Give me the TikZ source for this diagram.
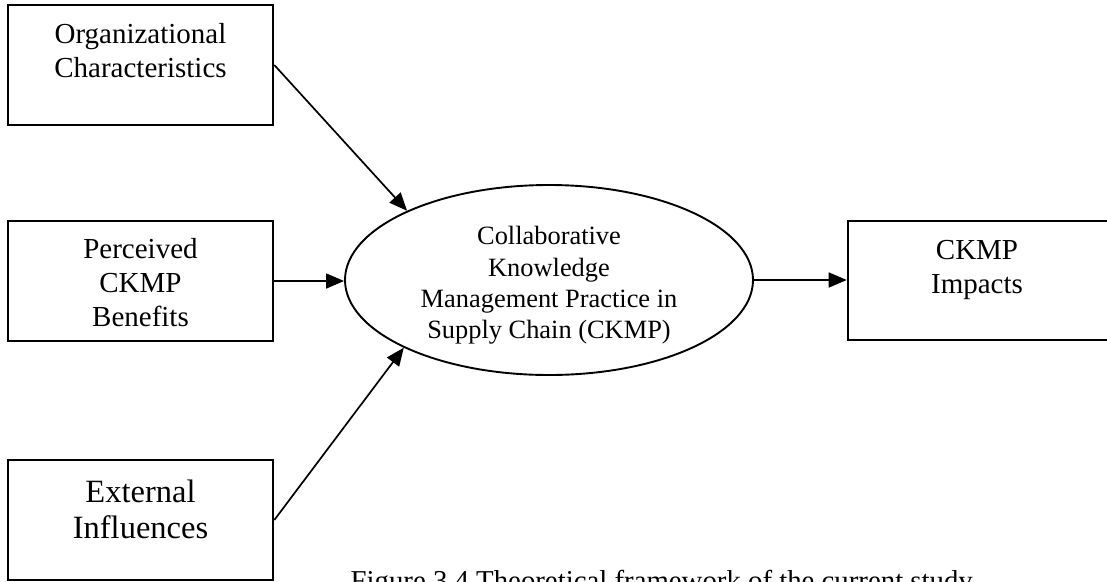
\documentclass[tikz,border=0pt]{standalone}
\usepackage{fontspec}
\setmainfont{Liberation Serif}
\usetikzlibrary{arrows.meta,shapes.geometric}
\begin{document}
\begin{tikzpicture}[x=1pt,y=-1pt,
  box/.style={draw,line width=2.6pt,inner sep=0pt},
  % multi-line labels: the base anchor sits on the last line
  lbl/.style={align=center,inner sep=0pt,anchor=base,
    font=\fontsize{29}{33.8}\selectfont},
  biglbl/.style={align=center,inner sep=0pt,anchor=base,
    font=\fontsize{32.5}{36}\selectfont},
  ell/.style={draw,ellipse,line width=1.9pt,inner sep=0pt},
  ellbl/.style={align=center,inner sep=0pt,anchor=base,
    font=\fontsize{26.4}{31.2}\selectfont},
  link/.style={line width=1.7pt,-{Triangle[length=18pt,width=15pt]}}]
\useasboundingbox (0,0) rectangle (1107,581);
\clip (0,0) rectangle (1107,581);
% factor boxes
\node[box,minimum width=265pt,minimum height=120pt] (org)  at (140.5,65) {};
\node[box,minimum width=265pt,minimum height=120pt] (perc) at (140.5,281) {};
\node[box,minimum width=265pt,minimum height=120pt] (ext)  at (140.5,520) {};
% outcome box runs past the right margin
\node[box,minimum width=264pt,minimum height=119pt] (imp) at (980,280.5) {};
% central construct
\node[ell,minimum width=408pt,minimum height=190pt] (ck) at (549,280) {};
% labels
\node[lbl] (orgt)  at (140.5,77)  {Organizational\\Characteristics};
\node[lbl] (perct) at (140.5,326) {Perceived\\CKMP\\Benefits};
\node[biglbl] (extt) at (140.5,538) {External\\Influences};
\node[lbl] (impt)  at (977,293)   {CKMP\\Impacts};
\node[ellbl] (ckt) at (549,338.5) {Collaborative\\Knowledge\\Management Practice in\\Supply Chain (CKMP)};
% caption
\node[inner sep=0pt,anchor=base east,font=\fontsize{28.8}{34}\selectfont] (cap) at (973,590)
  {Figure 3.4 Theoretical framework of the current study};
% connectors
\draw[link] (org.east) -- (ck.154.9);
\draw[link] (perc.east) -- (perc.east -| ck.west);
\draw[link] (ext.east) -- (ck.205.6);
\draw[link] (ck.east) -- (ck.east -| imp.west);
\end{tikzpicture}
\end{document}
